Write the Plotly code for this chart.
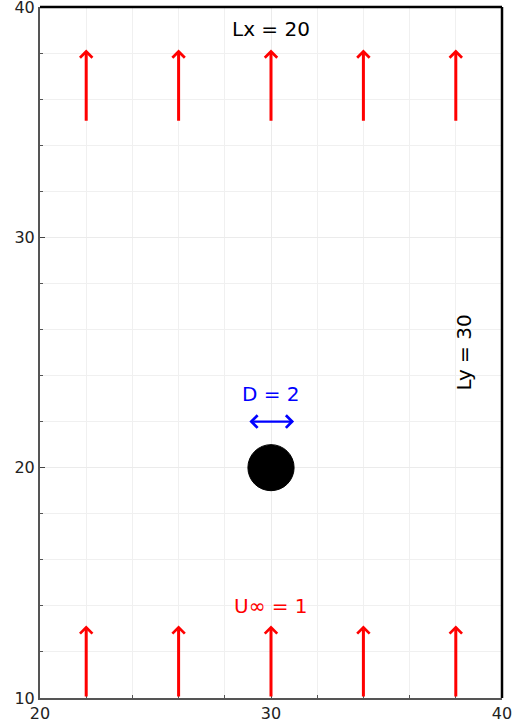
import plotly.graph_objects as go

# Domain
x_range = [20, 40]
y_range = [10, 40]
x_ticks = [20, 30, 40]
y_ticks = [10, 20, 30, 40]

# Inflow arrows (x positions, start / end heights)
arrow_x = [22, 26, 30, 34, 38]
bottom_y0, bottom_y1 = 10, 13
top_y0, top_y1 = 35, 38

# Cylinder
cyl_x, cyl_y, cyl_d = 30, 20, 2
dim_y = 22

# Labels
labels_text = ["Lx = 20", "D = 2", "U∞ = 1"]
labels_x = [30, 30, 30]
labels_y = [39.05, 23.2, 14]
labels_color = ["black", "blue", "red"]
ly_text, ly_x, ly_y = "Ly = 30", 38.35, 25

fig = go.Figure()
fig.add_trace(go.Scatter(x=[], y=[], showlegend=False))

annotations = []
for xv in arrow_x:
    for (y0, y1) in [(bottom_y0, bottom_y1), (top_y0, top_y1)]:
        annotations.append(dict(x=xv, y=y1 + 0.15, ax=xv, ay=y0, xref="x", yref="y",
                                axref="x", ayref="y", showarrow=True, text="",
                                arrowhead=4, arrowsize=0.8, arrowwidth=3,
                                arrowcolor="red"))
# diameter double arrow
annotations.append(dict(x=cyl_x + cyl_d / 2, y=dim_y, ax=cyl_x - cyl_d / 2, ay=dim_y,
                        xref="x", yref="y", axref="x", ayref="y", showarrow=True,
                        text="", arrowhead=4, startarrowhead=4, arrowside="end+start",
                        arrowsize=1.1, startarrowsize=1.1, arrowwidth=2.2, arrowcolor="blue"))
for t, xv, yv, c in zip(labels_text, labels_x, labels_y, labels_color):
    annotations.append(dict(x=xv, y=yv, text=t, showarrow=False, xref="x", yref="y",
                            font=dict(family="DejaVu Sans", size=20, color=c)))
annotations.append(dict(x=ly_x, y=ly_y, text=ly_text, showarrow=False, xref="x", yref="y",
                        textangle=-90, font=dict(family="DejaVu Sans", size=20, color="black")))

shapes = [
    dict(type="circle", xref="x", yref="y",
         x0=cyl_x - cyl_d / 2, x1=cyl_x + cyl_d / 2,
         y0=cyl_y - cyl_d / 2, y1=cyl_y + cyl_d / 2,
         fillcolor="black", line=dict(color="black", width=1)),
    dict(type="line", xref="paper", yref="paper", x0=0, x1=1, y0=1, y1=1,
         line=dict(color="black", width=2.5)),
    dict(type="line", xref="paper", yref="paper", x0=1, x1=1, y0=0, y1=1,
         line=dict(color="black", width=2.5)),
]

axis_common = dict(showgrid=True, gridcolor="#ebebeb", gridwidth=1, automargin=False,
                   zeroline=False, showline=True, linecolor="#555555", linewidth=2,
                   ticks="inside", ticklen=5, tickcolor="#444444", tickwidth=1.2,
                   ticklabeloverflow="allow",
                   tickfont=dict(family="DejaVu Sans", size=16, color="#222222"),
                   minor=dict(dtick=2, showgrid=True, gridcolor="#f0f0f0",
                              ticks="inside", ticklen=3, tickcolor="#555555"))

fig.update_layout(
    width=512, height=726,
    margin=dict(l=40, r=10, t=7, b=28),
    plot_bgcolor="white", paper_bgcolor="white",
    xaxis=dict(range=x_range, tickvals=x_ticks, **axis_common),
    yaxis=dict(range=y_range, tickvals=y_ticks, **axis_common),
    annotations=annotations, shapes=shapes, showlegend=False,
)
fig.write_html("out.html")
